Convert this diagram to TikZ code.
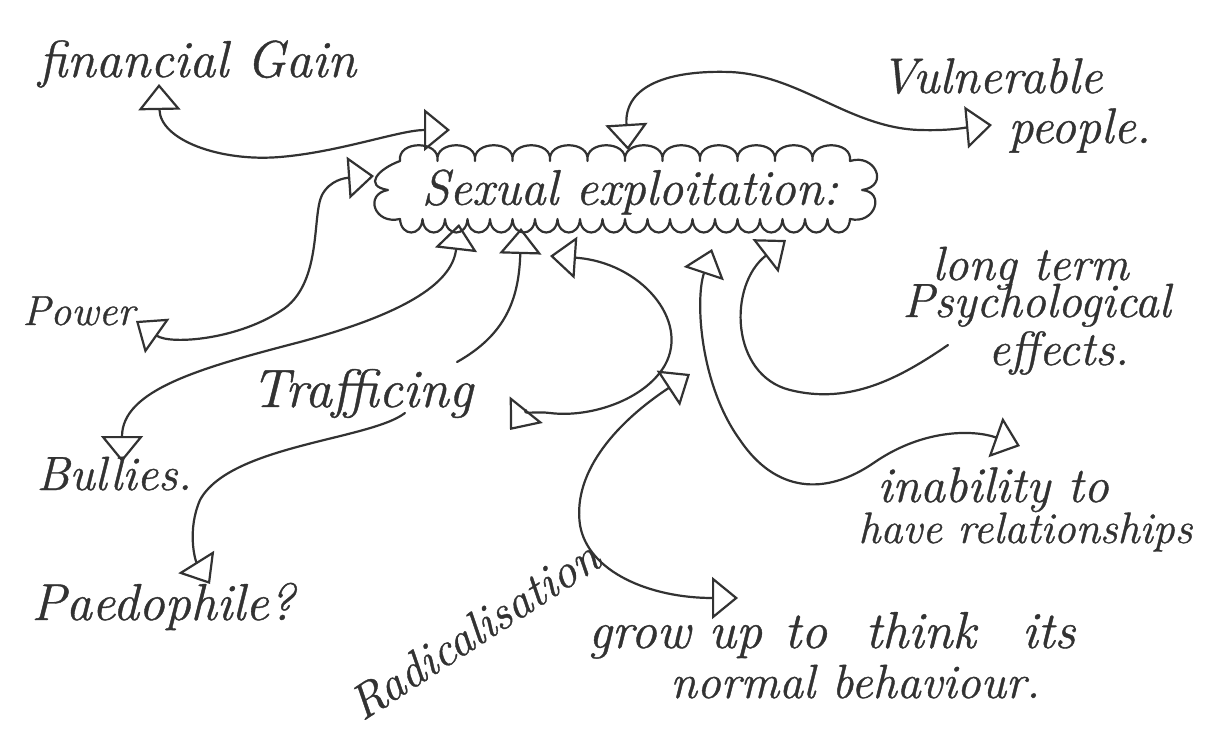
\documentclass[tikz,border=0pt]{standalone}
\usepackage{fontspec}
\setmainfont{Latin Modern Roman}[ItalicFeatures={FakeBold=0.8}]
\usetikzlibrary{arrows.meta}
\definecolor{ink}{RGB}{50,50,50}
\begin{document}
\begin{tikzpicture}[x=0.5pt, y=-0.5pt,
  >={Triangle[open, length=13pt, width=21pt]},
  conn/.style={draw=ink, line width=1.1pt, line cap=round, line join=round},
  lbl/.style={text=ink, inner sep=0pt, anchor=base west, font=\itshape\fontsize{25}{28}\selectfont},
  fs/.style={font=\itshape\fontsize{#1}{#1}\selectfont},
  cloudline/.style={draw=ink, line width=1.1pt, line join=round, line cap=round},
]
\fill[white] (0,0) rectangle (1206,734);
\useasboundingbox (0,0) rectangle (1206,734);

% labels
\node[lbl, fs=26] (fin) at (38,77) {financial Gain};
\node[lbl] (vul1) at (880,93) {Vulnerable};
\node[lbl] (vul2) at (1008,143) {people.};
\node[lbl, fs=24] (psy1) at (932,280) {long term};
\node[lbl, fs=24] (psy2) at (902,317) {Psychological};
\node[lbl, fs=24] (psy3) at (988,365) {effects.};
\node[lbl] (inab1) at (877,502) {inability to};
\node[lbl, fs=22] (inab2) at (858,543) {have relationships};
\node[lbl, fs=26] (grow1) at (588,648) {grow up\hspace{2pt} to\hspace{10pt} think\hspace{14pt} its};
\node[lbl, fs=24] (grow2) at (670,698) {normal behaviour.};
\node[lbl, fs=26] (paed) at (31,620) {Paedophile?};
\node[lbl, fs=24] (bul) at (36,490) {Bullies.};
\node[lbl, fs=21] (pow) at (22,325) {Power};
\node[lbl, fs=27] (traf) at (251,407) {Trafficing};
\node[lbl, fs=24, rotate=33] (rad) at (362,722) {Radicalisation};

% central cloud
\node[minimum width=243pt, minimum height=37pt, inner sep=0pt, text=ink,
  font=\itshape\fontsize{25}{28}\selectfont] (cloud) at (630,192) {Sexual exploitation:};
\draw[cloudline] (400,161)
  foreach \i in {1,...,12} { .. controls +(-3,-21) and +(3,-21) .. ++(37.5,0) }
  .. controls +(25,-8) and +(28,-4) .. ++(12,29)
  .. controls +(24,2) and +(25,6) .. ++(-12,29)
  foreach \i in {1,...,20} { .. controls +(-1,18) and +(1,18) .. ++(-22.5,0) }
  .. controls +(-26,6) and +(-24,4) .. ++(-12,-29)
  .. controls +(-25,-4) and +(-22,8) .. ++(12,-29)
  -- cycle;

% connector end points
\coordinate (fA) at (159,84);
\coordinate (fB) at (450,130);
\coordinate (pA) at (136,321);
\coordinate (pB) at (374,176);
\coordinate (bA) at (459,224);
\coordinate (bB) at (122,462);
\coordinate (t0) at (457,362);
\coordinate (tA) at (521,228);
\coordinate (tB) at (510,430);
\coordinate (tC) at (550,256);
\coordinate (t1) at (405,413);
\coordinate (pK) at (210,584);
\coordinate (rE) at (690,374);
\coordinate (rH) at (738,598);
\coordinate (iF) at (712,249);
\coordinate (iI) at (1020,446);
\coordinate (g0) at (948,345);
\coordinate (gT) at (786,240);
\coordinate (vA) at (628,150);
\coordinate (vB) at (992,125);

% connectors
\draw[conn, <->] (fA) .. controls (160,140) and (220,162) .. (280,157)
  .. controls (340,152) and (400,130) .. (fB);
\draw[conn, <->] (pA) .. controls (170,345) and (240,340) .. (285,308)
  .. controls (322,280) and (312,215) .. (322,195)
  .. controls (330,180) and (345,178) .. (pB);
\draw[conn, <->] (bA) .. controls (452,285) and (400,315) .. (300,342)
  .. controls (200,368) and (122,390) .. (bB);
\draw[conn, ->] (t0) .. controls (505,335) and (519,300) .. (tA);
\draw[conn, <->] (tC) .. controls (640,262) and (690,320) .. (665,365)
  .. controls (645,400) and (590,418) .. (550,413)
  .. controls (535,411) and (522,415) .. (tB);
\draw[conn, ->] (t1) .. controls (370,440) and (230,445) .. (200,500)
  .. controls (187,530) and (195,560) .. (pK);
\draw[conn, <->] (rE) .. controls (620,420) and (572,470) .. (580,525)
  .. controls (588,572) and (650,598) .. (rH);
\draw[conn, <->] (iF) .. controls (695,300) and (700,385) .. (740,440)
  .. controls (775,492) and (825,497) .. (875,462)
  .. controls (925,428) and (975,430) .. (iI);
\draw[conn, ->] (g0) .. controls (900,378) and (850,405) .. (790,390)
  .. controls (730,375) and (728,285) .. (gT);
\draw[conn, <->] (vA) .. controls (624,85) and (670,70) .. (730,72)
  .. controls (800,75) and (850,128) .. (920,130)
  .. controls (950,131) and (970,127) .. (vB);
\end{tikzpicture}
\end{document}
